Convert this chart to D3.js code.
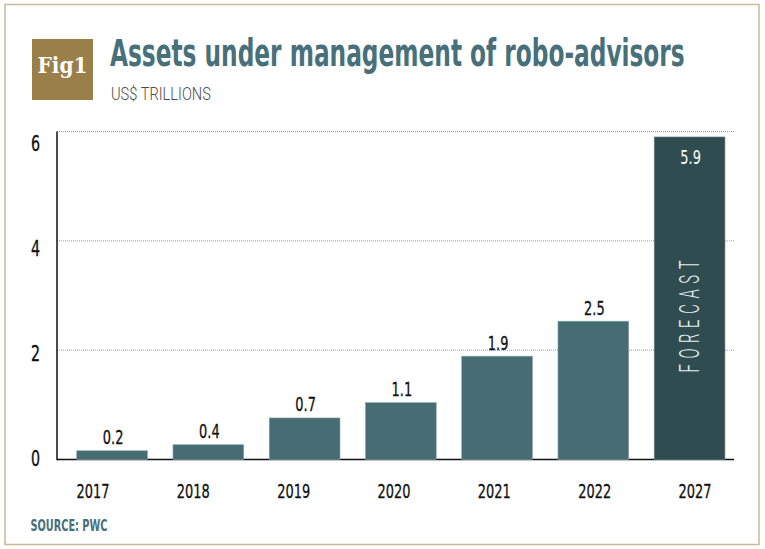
<!DOCTYPE html>
<html>
<head>
<meta charset="utf-8">
<script src="https://cdn.jsdelivr.net/npm/d3@7"></script>
<style>
  html, body { margin: 0; padding: 0; background: #fff; }
  svg { display: block; }
</style>
</head>
<body>
<svg id="chart" width="765" height="549"></svg>
<script>
// ---- data ----
const years = ["2017", "2018", "2019", "2020", "2021", "2022", "2027"];
const values = [0.16, 0.27, 0.76, 1.04, 1.89, 2.53, 5.9];
const valueLabels = ["0.2", "0.4", "0.7", "1.1", "1.9", "2.5", "5.9"];
const forecast = [false, false, false, false, false, false, true];
const yTicks = [0, 2, 4, 6];
const titleText = "Assets under management of robo-advisors";
const subtitleText = "US$ TRILLIONS";
const sourceText = "SOURCE: PWC";

const data = years.map((y, i) => ({ year: y, value: values[i], label: valueLabels[i], forecast: forecast[i] }));

const svg = d3.select("#chart");
const FONT = "'DejaVu Sans Condensed', 'Liberation Sans Narrow', sans-serif";
const SX = 0.72; // horizontal squeeze to mimic a narrow face

// fit a text to a given width by horizontal scaling (keeps its real bounding box)
function fitWidth(sel, x, y, width) {
  const len = sel.node().getComputedTextLength();
  sel.attr("x", null).attr("y", null)
     .attr("transform", `translate(${x},${y}) scale(${width / len},1)`);
}

// frame
svg.append("rect")
  .attr("x", 5).attr("y", 4.5).attr("width", 754).attr("height", 540)
  .attr("fill", "#fff").attr("stroke", "#c9b998").attr("stroke-width", 1.5);

// Fig badge
svg.append("rect").attr("x", 32).attr("y", 39).attr("width", 61).attr("height", 61).attr("fill", "#9b7f48");
const fig = svg.append("text")
  .attr("font-family", "'DejaVu Serif', 'Liberation Serif', serif").attr("font-weight", "bold")
  .attr("font-size", 23).attr("fill", "#fff")
  .text("Fig1");
fitWidth(fig, 37.5, 72.5, 50);

// title + subtitle
const title = svg.append("text")
  .attr("font-family", FONT).attr("font-weight", "bold").attr("font-size", 37)
  .attr("fill", "#47707a")
  .text(titleText);
fitWidth(title, 110, 66, 575);
const sub = svg.append("text")
  .attr("font-family", "Roboto, 'Open Sans', sans-serif").attr("font-weight", 300)
  .attr("font-size", 18).attr("fill", "#4d4d4d")
  .text(subtitleText);
fitWidth(sub, 111, 100, 100);

// scales
const y = d3.scaleLinear().domain([0, 6]).range([459.5, 131.5]);
const yLab = d3.scaleLinear().domain([0, 6]).range([458.5, 143]);
const x = d3.scaleBand().domain(years).range([57.5, 744.2]).paddingInner(0.265).paddingOuter(0.2);
const xLab = d3.scalePoint().domain(years).range([93, 695]);

// gridlines
svg.append("g").selectAll("line").data(yTicks.filter(d => d > 0)).join("line")
  .attr("x1", 57).attr("x2", 734)
  .attr("y1", d => y(d)).attr("y2", d => y(d))
  .attr("stroke", "#9a9a9a").attr("stroke-width", 1).attr("stroke-dasharray", "1,1");

// y tick labels
svg.append("g").selectAll("text").data(yTicks).join("text")
  .attr("transform", d => `translate(40,${yLab(d)}) scale(${SX},1)`)
  .attr("dy", "0.36em")
  .attr("text-anchor", "end")
  .attr("font-family", FONT).attr("font-size", 22).attr("fill", "#111")
  .attr("stroke", "#111").attr("stroke-width", 0.35)
  .text(d => d);

// x axis baseline
svg.append("line").attr("x1", 57).attr("x2", 734).attr("y1", y(0)).attr("y2", y(0))
  .attr("stroke", "#111").attr("stroke-width", 1.5);
// y axis line
svg.append("line").attr("x1", 57).attr("x2", 57).attr("y1", y(6)).attr("y2", y(0) + 0.75)
  .attr("stroke", "#111").attr("stroke-width", 1.5);

// bars
svg.append("g").selectAll("rect").data(data).join("rect")
  .attr("x", d => x(d.year))
  .attr("y", d => y(d.value))
  .attr("width", x.bandwidth())
  .attr("height", d => y(0) - y(d.value))
  .attr("fill", d => d.forecast ? "#2f4c50" : "#466d74")
  .attr("stroke", d => d.forecast ? "#6f8486" : "#8aa3a7")
  .attr("stroke-width", 0.6);

// value labels
svg.append("g").selectAll("text").data(data).join("text")
  .attr("transform", d => `translate(${x(d.year) + x.bandwidth() / 2 + 1},${d.forecast ? y(d.value) + 27 : y(d.value) - 6.5}) scale(${SX},1)`)
  .attr("text-anchor", "middle")
  .attr("font-family", FONT).attr("font-size", 20)
  .attr("fill", d => d.forecast ? "#fff" : "#111")
  .attr("stroke", d => d.forecast ? "none" : "#111").attr("stroke-width", 0.3)
  .text(d => d.label);

// FORECAST vertical label
const fc = data.find(d => d.forecast);
const fcS = 0.55;
svg.append("text")
  .attr("transform", `translate(${x(fc.year) + x.bandwidth() / 2 + 9},${316.5}) rotate(-90) scale(${fcS},1)`)
  .attr("text-anchor", "middle")
  .attr("font-family", "Roboto, 'Open Sans', sans-serif").attr("font-weight", 300)
  .attr("font-size", 27).attr("fill", "#e6eeee")
  .attr("textLength", 112 / fcS).attr("lengthAdjust", "spacing")
  .text("FORECAST");

// x labels
svg.append("g").selectAll("text").data(years).join("text")
  .attr("transform", d => `translate(${xLab(d)},497.5) scale(${SX},1)`)
  .attr("text-anchor", "middle")
  .attr("font-family", FONT).attr("font-size", 20).attr("fill", "#111")
  .attr("stroke", "#111").attr("stroke-width", 0.3)
  .text(d => d);

// source
const src = svg.append("text")
  .attr("font-family", FONT).attr("font-weight", "bold").attr("font-size", 16)
  .attr("fill", "#47707a")
  .text(sourceText);
fitWidth(src, 30.5, 530.5, 77);
</script>
</body>
</html>
